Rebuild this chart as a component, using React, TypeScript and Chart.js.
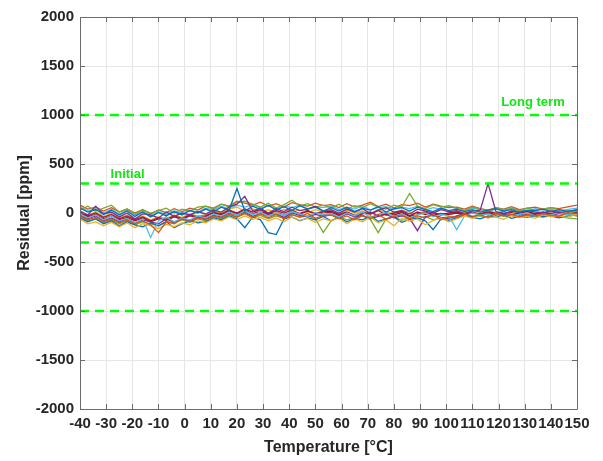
import { useEffect, useRef } from 'react';
import { Chart, registerables } from 'chart.js';

Chart.register(...registerables);

// Temperature sample points [°C]
const temps = [
  -40, -37, -34, -31, -28, -25, -22, -19, -16, -13, -10, -7, -4, -1, 2, 5,
  8, 11, 14, 17, 20, 23, 26, 29, 32, 35, 38, 41, 44, 47, 50, 53,
  56, 59, 62, 65, 68, 71, 74, 77, 80, 83, 86, 89, 92, 95, 98, 101,
  104, 107, 110, 113, 116, 119, 122, 125, 128, 131, 134, 137, 140, 143, 146, 150,
];

// Residual curves [ppm], one array per sensor
const s1 = [
  50, 10, 35, -15, 30, -20, 20, -35, 10, -40, 5, -30, 15, -20, 25, 0,
  40, 10, 60, 30, 250, 20, 70, 35, 80, 30, 65, 25, 75, 40, 60, 20,
  55, 20, 60, 15, 50, 30, 65, 10, 45, 55, 20, 60, 35, 15, 50, 25,
  40, 15, 35, 10, 30, 45, 20, 35, 10, 30, 25, 40, 15, 35, 20, 30,
];
const s2 = [
  -30, -70, -45, -90, -60, -100, -70, -110, -80, -120, -200, -90, -110, -60, -90, -50,
  -70, -30, -50, -10, -40, 0, -45, -10, -50, -15, -60, -20, -40, -5, -55, -25,
  -20, -60, -30, -70, -25, -55, -15, -65, -35, -20, -60, -30, -50, -15, -70, -40,
  -40, -10, -35, -20, -45, -5, -30, -15, -40, -20, -30, -10, -25, -35, 0, 40,
];
const s3 = [
  -60, -110, -90, -130, -95, -140, -100, -150, -110, -130, -160, -115, -140, -100, -120, -80,
  -100, -60, -80, -40, -70, -30, -65, -45, -80, -50, -90, -40, -75, -55, -95, -60,
  -80, -50, -110, -60, -90, -40, -100, -70, -130, -55, -85, -60, -120, -75, -50, -90,
  -60, -30, -55, -20, -50, -40, -65, -25, -45, -35, -55, -20, -40, -30, -45, -10,
];
const s4 = [
  20, -20, 70, -10, 10, -40, 0, -60, -10, -20, -50, 10, -35, 0, -20, 15,
  -10, 30, 10, 60, 90, 170, 20, 50, 0, 45, 15, 60, 25, 40, 70, 20,
  35, 0, 40, 10, 45, -5, 30, 55, 10, 25, -10, 40, 20, 0, 35, 15,
  25, -5, 20, 30, 300, 15, -10, 20, 5, 25, 10, 0, 20, 5, 15, 25,
];
const s5 = [
  30, 70, 20, 50, 80, 10, 40, -10, 30, 0, 25, 50, 0, 40, 20, 60,
  70, 40, 90, 60, 110, 120, 90, 60, 100, 50, 85, 130, 70, 95, 60, 80,
  50, 90, 40, 75, 55, 95, 60, 40, 80, 60, 200, 70, 45, 85, 60, 75,
  50, 25, 60, 40, 20, 55, 35, 45, 25, 50, 30, 40, 55, 35, 20, -30,
];
const s6 = [
  -10, -50, -20, -70, -30, -80, -55, -100, -60, -250, -80, -40, -90, -50, -70, -30,
  -50, -10, -30, 10, -20, 20, -15, 5, -30, 0, -25, 15, -10, -35, 5, -20,
  -5, -40, 0, -30, 10, -45, -15, 5, -35, -10, -50, -20, 0, -40, -15, -30,
  -170, -30, 0, -20, -10, -35, 5, -25, -15, 0, -30, -10, -20, 5, -15, -5,
];
const s7 = [
  10, -30, 0, -45, -15, -60, -30, -70, -40, -80, -50, -65, -30, -55, -20, -40,
  -30, 5, -10, 30, 0, 40, 10, 35, -5, 25, 0, 30, -10, 20, -5, 15,
  20, -15, 10, -25, 5, -10, 25, -20, 0, 15, -30, 10, -15, 5, -20, 0,
  10, -15, 5, -10, 15, -5, 10, -20, 0, 15, -10, 5, -5, 10, -15, 5,
];
const s8 = [
  -50, -90, -60, -110, -80, -130, -90, -120, -140, -100, -130, -90, -150, -110, -80, -100,
  -90, -50, -70, -30, -60, -150, -40, -70, -200, -220, -60, -40, -80, -50, -70, -35,
  -80, -45, -90, -55, -70, -30, -85, -60, -40, -95, -65, -50, -80, -170, -60, -75,
  -50, -25, -45, -60, -30, -40, -20, -55, -35, -45, -25, -40, -30, -50, -35, -20,
];
const s9 = [
  80, 40, 60, 20, 55, 10, 40, 0, 35, -10, 30, 5, 45, 15, 50, 30,
  70, 50, 90, 70, 120, 100, 80, 110, 70, 95, 60, 105, 85, 70, 100, 75,
  85, 55, 95, 60, 80, 110, 65, 90, 50, 85, 75, 100, 60, 90, 70, 55,
  60, 40, 70, 45, 30, 55, 40, 65, 35, 50, 60, 40, 55, 45, 60, 80,
];
const s10 = [
  20, -20, 10, -35, -5, -50, -20, -60, -30, -70, -40, -55, -20, -45, -10, -30,
  -20, 20, 0, 40, 60, 20, 45, 10, 35, 0, 40, 15, 30, 5, 35, 10,
  25, -10, 30, 0, 20, -15, 35, 5, -5, 30, 10, -20, 25, 0, 40, 10,
  20, 0, 25, 10, 30, 5, 15, -10, 20, 0, 15, 5, 25, 10, 0, 15,
];
const s11 = [
  -20, -60, -30, -80, -50, -90, -60, -100, -70, -90, -110, -60, -95, -50, -80, -40,
  -60, -25, -40, 0, -20, 10, -35, -5, -30, -10, -45, 0, -25, -40, -15, -35,
  -20, -50, -10, -40, -25, -60, -35, -15, -50, -30, -55, -180, -40, -20, -45, -60,
  -30, -10, -40, -20, -5, -35, -15, -25, -40, -10, -20, -30, -5, -25, -15, -30,
];
const s12 = [
  -40, -80, -55, -100, -70, -110, -80, -120, -90, -110, -130, -85, -100, -70, -95, -60,
  -80, -40, -60, -20, -45, -10, -50, -25, -60, -30, -55, -15, -45, -30, -60, -200,
  -80, -40, -70, -50, -30, -65, -200, -60, -40, -75, -45, -60, -35, -70, -50, -40,
  -45, -20, -40, -30, -50, -15, -35, -25, -45, -20, -35, -40, -25, -30, -50, -60,
];
const s13 = [
  60, 20, 45, 0, 35, -10, 25, -20, 15, -30, 10, -15, 20, -5, 30, 10,
  50, 30, 70, 40, 80, 60, 85, 50, 75, 40, 70, 55, 80, 45, 65, 55,
  70, 35, 60, 40, 75, 30, 55, 65, 35, 60, 45, 70, 30, 55, 40, 65,
  45, 20, 50, 35, 15, 40, 25, 50, 30, 20, 45, 30, 40, 20, 35, 50,
];
const s14 = [
  0, -40, -15, -60, -30, -70, -45, -80, -50, -90, -60, -75, -40, -65, -30, -50,
  -40, 0, -20, 20, -5, 30, -10, 20, -15, 10, -25, 15, -5, 25, -10, 5,
  5, -25, 0, -35, -10, 10, -30, -5, -20, 5, -35, -10, 10, -25, -5, -15,
  0, -20, 5, -15, 10, -25, -5, 5, -20, 0, -10, 10, -15, 0, -5, -25,
];

const seriesValues = [s1, s2, s3, s4, s5, s6, s7, s8, s9, s10, s11, s12, s13, s14];
const lineColors = ['#0072BD', '#D95319', '#EDB120', '#7E2F8E', '#77AC30', '#4DBEEE', '#A2142F'];

// Limit lines [ppm] and their annotations
const limitValues = [1000, 300, -300, -1000];
const limitLabels = ['Long term', 'Initial'];
const limitLabelX = [121, -28.3];
const limitLabelY = [1133, 390];

const xMin = -40;
const xMax = 150;
const xStep = 10;
const yMin = -2000;
const yMax = 2000;
const yStep = 500;

const FONT = '"Liberation Sans", Arial, sans-serif';
const TEXT = '#262626';
const AXIS = '#6b6b6b';
const LIMIT_GREEN = '#00ff00';

const boxPlugin = {
  id: 'matlabBox',
  afterDatasetsDraw(chart: any) {
    const { ctx, chartArea, scales } = chart;
    const { left, right, top, bottom } = chartArea;
    ctx.save();
    ctx.strokeStyle = AXIS;
    ctx.lineWidth = 1;
    ctx.beginPath();
    ctx.rect(Math.round(left) + 0.5, Math.round(top) + 0.5, Math.round(right - left), Math.round(bottom - top));
    ctx.stroke();
    const tl = 5;
    ctx.beginPath();
    scales.x.ticks.forEach((t: any) => {
      const px = Math.round(scales.x.getPixelForValue(t.value)) + 0.5;
      ctx.moveTo(px, bottom);
      ctx.lineTo(px, bottom - tl);
      ctx.moveTo(px, top);
      ctx.lineTo(px, top + tl);
    });
    scales.y.ticks.forEach((t: any) => {
      const py = Math.round(scales.y.getPixelForValue(t.value)) + 0.5;
      ctx.moveTo(left, py);
      ctx.lineTo(left + tl, py);
      ctx.moveTo(right, py);
      ctx.lineTo(right - tl, py);
    });
    ctx.stroke();
    ctx.restore();
  },
  afterDraw(chart: any) {
    const { ctx, scales } = chart;
    ctx.save();
    ctx.fillStyle = '#14e614';
    ctx.font = `bold 13px ${FONT}`;
    ctx.textAlign = 'left';
    ctx.textBaseline = 'middle';
    limitLabels.forEach((txt, i) => {
      ctx.fillText(txt, scales.x.getPixelForValue(limitLabelX[i]), scales.y.getPixelForValue(limitLabelY[i]));
    });
    ctx.restore();
  },
};

export default function App() {
  const ref = useRef<HTMLCanvasElement>(null);

  useEffect(() => {
    document.body.style.margin = '0';
    const canvas = ref.current;
    if (!canvas) return;

    const limitSets = limitValues.map((v) => ({
      data: [
        { x: xMin, y: v },
        { x: xMax, y: v },
      ],
      borderColor: LIMIT_GREEN,
      borderWidth: 2.5,
      borderDash: [9, 6],
      pointRadius: 0,
      fill: false,
    }));

    const dataSets = seriesValues.map((vals, i) => ({
      data: temps.map((t, j) => ({ x: t, y: vals[j] })),
      borderColor: lineColors[i % lineColors.length],
      borderWidth: 1.3,
      pointRadius: 0,
      tension: 0,
      fill: false,
    }));

    const chart = new Chart(canvas, {
      type: 'line',
      data: { datasets: [...limitSets, ...dataSets] as any },
      options: {
        animation: false,
        responsive: false,
        devicePixelRatio: 1,
        layout: { padding: { top: 17, right: 26, left: 0, bottom: 0 } },
        plugins: {
          legend: { display: false },
          tooltip: { enabled: false },
        },
        scales: {
          x: {
            type: 'linear',
            min: xMin,
            max: xMax,
            afterFit: (s: any) => {
              s.height = 52;
            },
            ticks: {
              stepSize: xStep,
              autoSkip: false,
              maxRotation: 0,
              minRotation: 0,
              padding: 6,
              color: TEXT,
              font: { family: FONT, size: 15, weight: 'bold' },
              callback: (v: any) => String(v),
            },
            grid: { color: '#e6e6e6', drawTicks: false },
            border: { display: false },
            title: {
              display: true,
              text: 'Temperature [°C]',
              color: TEXT,
              font: { family: FONT, size: 16, weight: 'bold' },
              padding: { top: 0, bottom: 4 },
            },
          },
          y: {
            type: 'linear',
            min: yMin,
            max: yMax,
            afterFit: (s: any) => {
              s.width = 80;
            },
            ticks: {
              stepSize: yStep,
              padding: 6,
              color: TEXT,
              font: { family: FONT, size: 15, weight: 'bold' },
              callback: (v: any) => String(v),
            },
            grid: { color: '#e6e6e6', drawTicks: false },
            border: { display: false },
            title: {
              display: true,
              text: 'Residual [ppm]',
              color: TEXT,
              font: { family: FONT, size: 16, weight: 'bold' },
              padding: { top: 15, bottom: 0 },
            },
          },
        },
      } as any,
      plugins: [boxPlugin],
    });

    return () => chart.destroy();
  }, []);

  return (
    <div style={{ position: 'relative', width: 603, height: 461, background: '#fff' }}>
      <canvas ref={ref} width={603} height={461} style={{ display: 'block' }} />
    </div>
  );
}
